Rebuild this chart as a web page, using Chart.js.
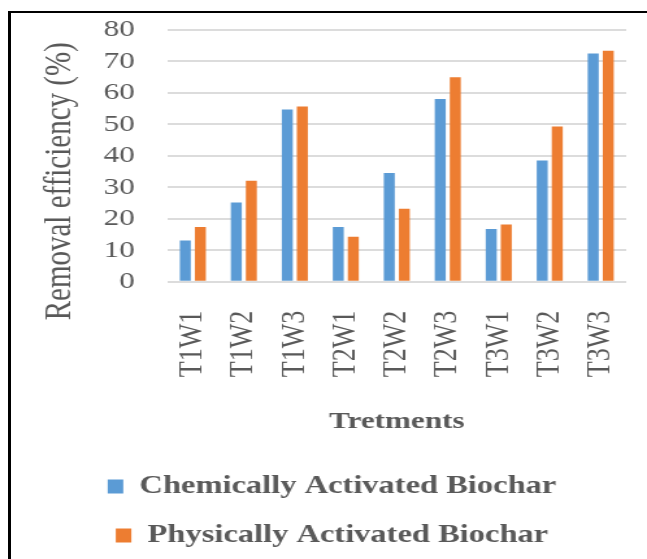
<!DOCTYPE html>
<html>
<head>
<meta charset="utf-8">
<title>Removal efficiency</title>
<script src="https://cdn.jsdelivr.net/npm/chart.js@4.4.1/dist/chart.umd.min.js"></script>
<style>
html, body { margin: 0; padding: 0; background: #fff; overflow: hidden; }
/* the reference picture is stretched sideways, so the chart is drawn narrow and scaled */
#wrap { position: absolute; left: 0; top: 0; width: 498px; height: 559px; transform: scaleX(1.2992); transform-origin: 0 0; }
#frame { position: absolute; left: 8px; top: 11px; width: 700px; height: 600px; border-left: 3px solid #000; border-top: 2px solid #000; pointer-events: none; }
</style>
</head>
<body>
<div id="wrap"><canvas id="chart" width="498" height="559"></canvas></div>
<div id="frame"></div>
<script>
// data
var categories = ['T1W1', 'T1W2', 'T1W3', 'T2W1', 'T2W2', 'T2W3', 'T3W1', 'T3W2', 'T3W3'];
var chemical = [13.1, 25.2, 54.7, 17.4, 34.6, 58.1, 16.8, 38.5, 72.5];
var physical = [17.4, 32.1, 55.7, 14.3, 23.2, 65.0, 18.2, 49.3, 73.4];
var yTicks = [0, 10, 20, 30, 40, 50, 60, 70, 80];

var serif = "'Liberation Serif', 'Times New Roman', serif";
var grey = '#595959';
var clear = 'rgba(0,0,0,0)';

var ctx = document.getElementById('chart').getContext('2d');
var chart = new Chart(ctx, {
    type: 'bar',
    data: {
        labels: categories,
        datasets: [{
            label: 'Chemically Activated Biochar',
            data: chemical,
            backgroundColor: '#5B9BD5',
            borderWidth: 0
        }, {
            label: 'Physically Activated Biochar',
            data: physical,
            backgroundColor: '#ED7D31',
            borderWidth: 0
        }]
    },
    options: {
        responsive: false,
        animation: false,
        categoryPercentage: 0.59,
        barPercentage: 0.73,
        layout: { padding: { top: 30, right: 16, bottom: 1, left: 29 } },
        plugins: {
            tooltip: { enabled: false },
            legend: {
                position: 'bottom',
                labels: {
                    boxWidth: 12,
                    boxHeight: 14,
                    padding: 24,
                    color: grey,
                    font: { family: serif, size: 25, weight: 'bold' }
                }
            }
        },
        scales: {
            x: {
                // invisible tick marks give the gap under the axis (tick padding counts twice)
                grid: { display: true, drawOnChartArea: false, drawTicks: true, tickLength: 29, tickColor: clear, color: clear },
                border: { display: false },
                ticks: {
                    color: grey,
                    font: { family: serif, size: 26 },
                    minRotation: 90,
                    maxRotation: 90,
                    autoSkip: false,
                    padding: 0
                },
                title: {
                    display: true,
                    text: 'Tretments',
                    color: grey,
                    font: { family: serif, size: 24, weight: 'bold' },
                    padding: { top: 30, bottom: 14 }
                }
            },
            y: {
                min: 0,
                max: 80,
                afterBuildTicks: function(axis) { // use the tick list from the top
                    axis.ticks = yTicks.map(function(v){ return { value: v }; });
                },
                grid: { color: '#dcdcdc', lineWidth: 2, drawTicks: true, tickLength: 25, tickColor: clear },
                border: { display: false },
                ticks: {
                    color: grey,
                    font: { family: serif, size: 24 },
                    autoSkip: false,
                    padding: 0
                },
                title: {
                    display: true,
                    // trailing spaces push the centred title down, as in the picture
                    text: 'Removal efficiency (%)\u00a0\u00a0\u00a0\u00a0\u00a0\u00a0\u00a0',
                    color: grey,
                    font: { family: serif, size: 29 },
                    padding: { top: 0, bottom: 16 }
                }
            }
        }
    }
});
</script>
</body>
</html>
